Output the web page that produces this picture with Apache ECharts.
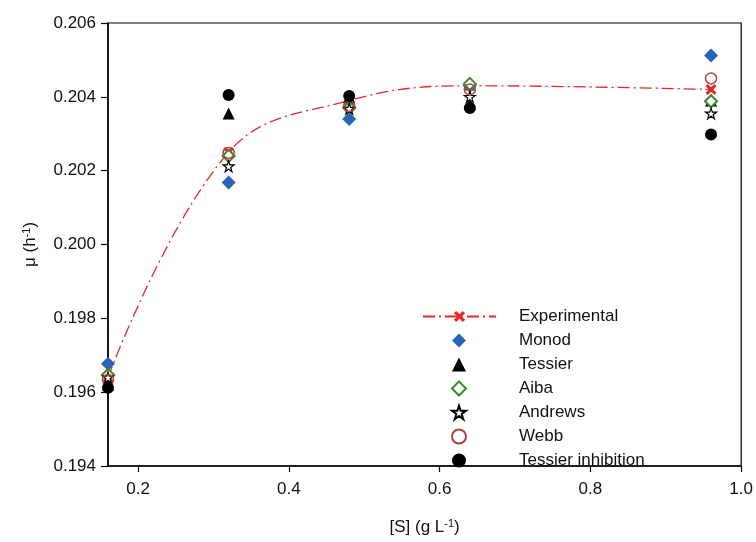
<!DOCTYPE html>
<html>
<head>
<meta charset="utf-8">
<script src="https://cdn.jsdelivr.net/npm/echarts@6/dist/echarts.min.js"></script>
<style>html,body{margin:0;padding:0;background:#fff;}#c{width:756px;height:542px;}</style>
</head>
<body>
<div id="c"></div>
<script>
var xVals = [0.16, 0.32, 0.48, 0.64, 0.96];
var experimental = [0.19640, 0.20250, 0.20390, 0.20430, 0.20420];
var monod = [0.19677, 0.20168, 0.20340, 0.20430, 0.20512];
var tessier = [0.19620, 0.20355, 0.20400, 0.20380, 0.20390];
var aiba = [0.19647, 0.20240, 0.20370, 0.20435, 0.20388];
var andrews = [0.19640, 0.20212, 0.20368, 0.20400, 0.20355];
var webb = [0.19633, 0.20248, 0.20375, 0.20420, 0.20450];
var tessierInh = [0.19612, 0.20405, 0.20402, 0.20370, 0.20298];
var xTicks = [0.2, 0.4, 0.6, 0.8, 1.0];
var yTicks = [0.194, 0.196, 0.198, 0.200, 0.202, 0.204, 0.206];

function pairs(ys) { return xVals.map(function (x, i) { return [x, ys[i]]; }); }

var FONT = '"Liberation Sans", Arial, sans-serif';
var crossPath = 'path://M2,0 L5,3 L8,0 L10,2 L7,5 L10,8 L8,10 L5,7 L2,10 L0,8 L3,5 L0,2 Z';
var starPath = 'path://M50,2 L61,36 L97,36 L68,57 L79,92 L50,70 L21,92 L32,57 L3,36 L39,36 Z';

var legendText = { fontSize: 17, fontFamily: FONT, color: '#111' };

var chart = echarts.init(document.getElementById('c'), null, { renderer: 'canvas' });
chart.setOption({
  animation: false,
  backgroundColor: '#fff',
  textStyle: { fontFamily: FONT },
  grid: { left: 108, right: 14, top: 23, bottom: 76, show: true, borderColor: '#000', borderWidth: 1.2, backgroundColor: 'transparent' },
  xAxis: {
    type: 'value', min: 0.16, max: 1.0,
    splitLine: { show: false },
    axisLine: { show: true, onZero: false, lineStyle: { color: '#000', width: 1.5 } },
    axisTick: { show: true, length: 6, lineStyle: { color: '#000', width: 1.2 }, customValues: xTicks },
    axisLabel: { color: '#111', fontSize: 17, fontFamily: FONT, margin: 15, customValues: xTicks,
      formatter: function (v) { return v.toFixed(1); } },
    name: '{n|[S] (g L}{s|-1}{n|)}',
    nameLocation: 'middle', nameGap: 52,
    nameTextStyle: { rich: { n: { fontSize: 17, fontFamily: FONT, color: '#111' }, s: { fontSize: 11, fontFamily: FONT, color: '#111', verticalAlign: 'top', padding: [0, 0, 8, 0] } } }
  },
  yAxis: {
    type: 'value', min: 0.194, max: 0.206,
    splitLine: { show: false },
    axisLine: { show: true, onZero: false, lineStyle: { color: '#000', width: 1.5 } },
    axisTick: { show: true, length: 7, lineStyle: { color: '#000', width: 1.2 }, customValues: yTicks },
    axisLabel: { color: '#111', fontSize: 17, fontFamily: FONT, margin: 12, customValues: yTicks,
      formatter: function (v) { return v.toFixed(3); } },
    name: '{n|\u03bc (h}{s|-1}{n|)}',
    nameLocation: 'middle', nameGap: 68, nameRotate: 90,
    nameTextStyle: { rich: { n: { fontSize: 17, fontFamily: FONT, color: '#111' }, s: { fontSize: 11, fontFamily: FONT, color: '#111', verticalAlign: 'top', padding: [0, 0, 8, 0] } } }
  },
  legend: [
    {
      orient: 'vertical', left: 417, top: 303,
      itemWidth: 73, itemHeight: 14, itemGap: 7,
      textStyle: Object.assign({ padding: [0, 0, 0, 18] }, legendText),
      data: ['Experimental']
    },
    {
      orient: 'vertical', left: 446, top: 327,
      itemWidth: 14, itemHeight: 14, itemGap: 7,
      textStyle: Object.assign({ padding: [0, 0, 0, 48] }, legendText),
      data: ['Monod', 'Tessier', 'Aiba', 'Andrews', 'Webb', 'Tessier inhibition']
    }
  ],
  series: [
    { name: 'Experimental', type: 'line', data: pairs(experimental), smooth: 0.4,
      symbol: crossPath, symbolSize: 11, z: 2,
      lineStyle: { color: '#e8262a', width: 1.3, type: [12, 4, 2, 4] },
      itemStyle: { color: '#e8262a', opacity: 1 } },
    { name: 'Monod', type: 'scatter', data: pairs(monod), symbol: 'diamond', symbolSize: 14, z: 3,
      itemStyle: { color: '#2a64b8', opacity: 1 } },
    { name: 'Tessier', type: 'scatter', data: pairs(tessier), symbol: 'triangle', symbolSize: 12, z: 3,
      itemStyle: { color: '#000', opacity: 1 } },
    { name: 'Aiba', type: 'scatter', data: pairs(aiba), symbol: 'diamond', symbolSize: 12, z: 4,
      itemStyle: { color: '#fff', borderColor: '#3a8a2a', borderWidth: 2, opacity: 1 } },
    { name: 'Andrews', type: 'scatter', data: pairs(andrews), symbol: starPath, symbolSize: 11, z: 5,
      itemStyle: { color: '#fff', borderColor: '#000', borderWidth: 1.2, opacity: 1 } },
    { name: 'Webb', type: 'scatter', data: pairs(webb), symbol: 'circle', symbolSize: 11, z: 5,
      itemStyle: { color: 'rgba(255,255,255,0)', borderColor: '#b0413e', borderWidth: 1.5, opacity: 1 } },
    { name: 'Tessier inhibition', type: 'scatter', data: pairs(tessierInh), symbol: 'circle', symbolSize: 12, z: 6,
      itemStyle: { color: '#000', opacity: 1 } }
  ]
});
</script>
</body>
</html>
